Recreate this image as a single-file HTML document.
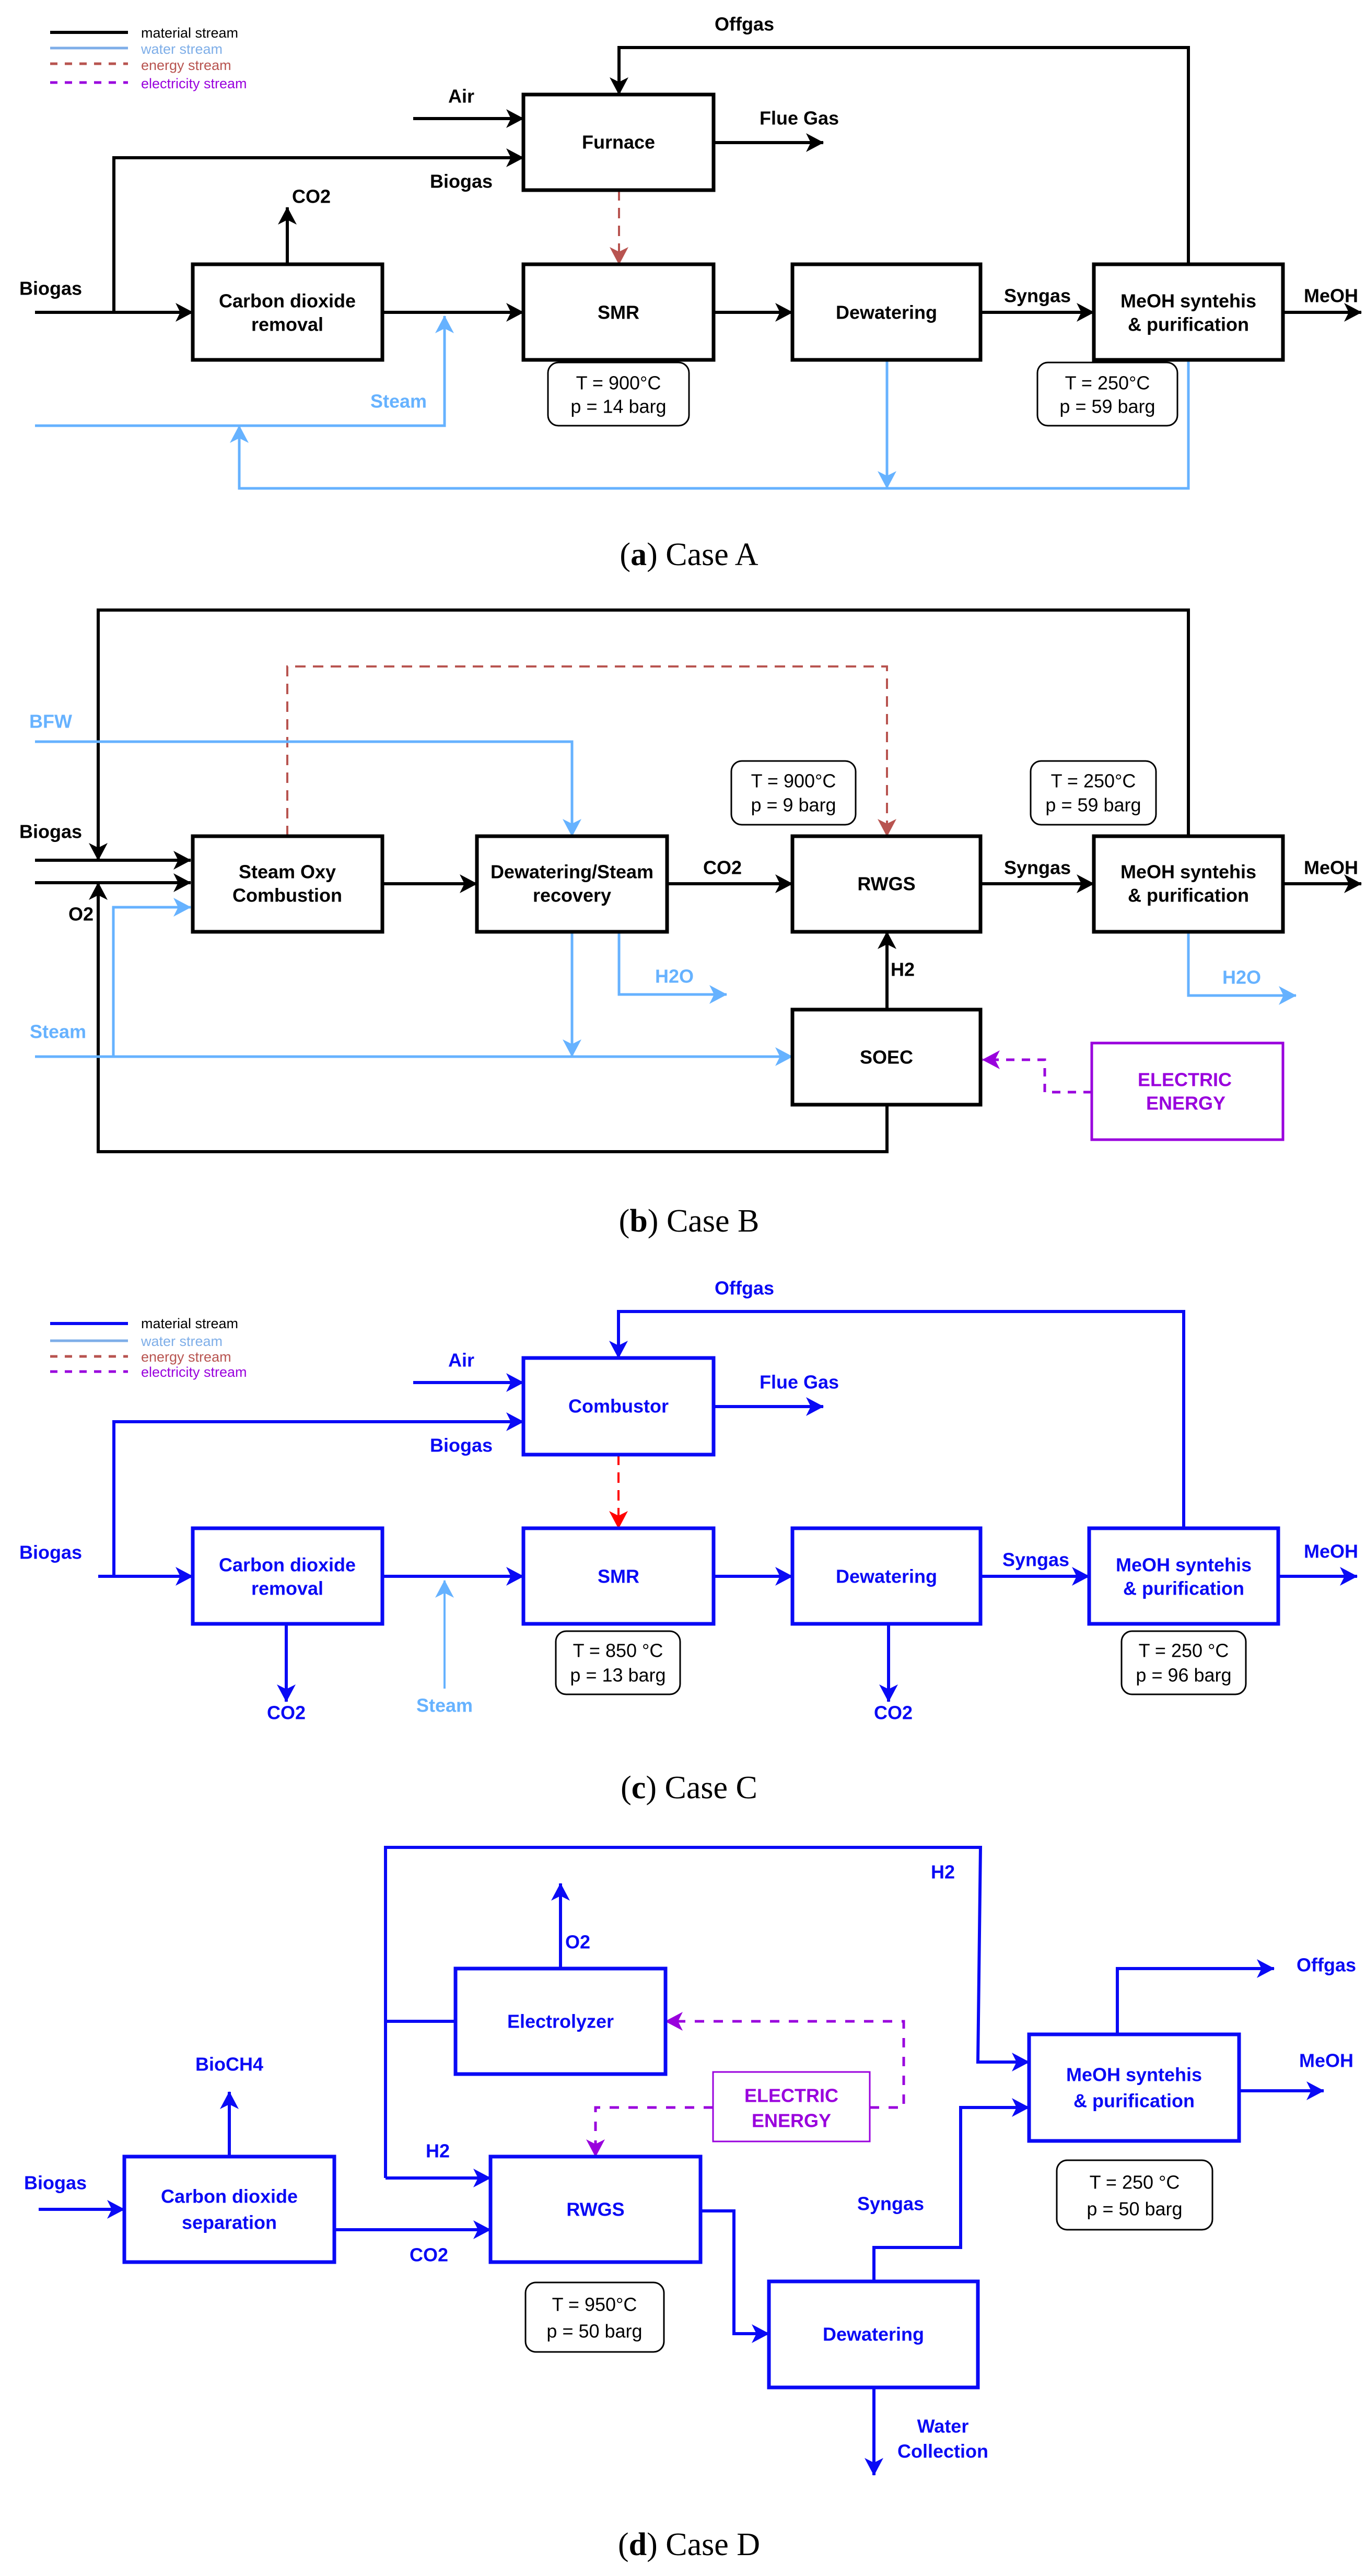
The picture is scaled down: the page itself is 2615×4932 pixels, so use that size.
<!DOCTYPE html>
<html><head><meta charset="utf-8"><style>
html,body{margin:0;padding:0;background:#fff}
svg{display:block}
text{font-family:"Liberation Sans",Arial,sans-serif}
.b{font-weight:bold;font-size:36px}
.r{font-size:36px}
.lg{font-size:27px}
.cap{font-family:"Liberation Serif",serif;font-size:62px}
</style></head><body>
<svg width="2615" height="4932" viewBox="0 0 2615 4932" xmlns="http://www.w3.org/2000/svg">
<defs>
<marker id="ak" viewBox="0 0 34 36" markerWidth="34" markerHeight="36" refX="33" refY="18" orient="auto" markerUnits="userSpaceOnUse"><path d="M0,0 L34,18 L0,36 L9,18 Z" fill="#000"/></marker>
<marker id="al" viewBox="0 0 34 36" markerWidth="34" markerHeight="36" refX="33" refY="18" orient="auto" markerUnits="userSpaceOnUse"><path d="M0,0 L34,18 L0,36 L9,18 Z" fill="#66b2ff"/></marker>
<marker id="ab" viewBox="0 0 34 36" markerWidth="34" markerHeight="36" refX="33" refY="18" orient="auto" markerUnits="userSpaceOnUse"><path d="M0,0 L34,18 L0,36 L9,18 Z" fill="#0a0af5"/></marker>
<marker id="ar" viewBox="0 0 34 36" markerWidth="34" markerHeight="36" refX="33" refY="18" orient="auto" markerUnits="userSpaceOnUse"><path d="M0,0 L34,18 L0,36 L9,18 Z" fill="#b85450"/></marker>
<marker id="ard" viewBox="0 0 34 36" markerWidth="34" markerHeight="36" refX="33" refY="18" orient="auto" markerUnits="userSpaceOnUse"><path d="M0,0 L34,18 L0,36 L9,18 Z" fill="#ff0000"/></marker>
<marker id="ap" viewBox="0 0 34 36" markerWidth="34" markerHeight="36" refX="33" refY="18" orient="auto" markerUnits="userSpaceOnUse"><path d="M0,0 L34,18 L0,36 L9,18 Z" fill="#9900dd"/></marker>
</defs>

<!-- ================= CASE A ================= -->
<g fill="none" stroke-width="6">
<line x1="96" y1="62" x2="245" y2="62" stroke="#000"/>
<line x1="96" y1="92" x2="245" y2="92" stroke="#7eaee8" stroke-width="5"/>
<line x1="96" y1="122" x2="245" y2="122" stroke="#b85450" stroke-width="5" stroke-dasharray="14,14"/>
<line x1="96" y1="158" x2="245" y2="158" stroke="#9900dd" stroke-width="5" stroke-dasharray="14,14"/>
</g>
<text x="270" y="72" class="lg" fill="#000">material stream</text>
<text x="270" y="103" class="lg" fill="#7eaee8">water stream</text>
<text x="270" y="134" class="lg" fill="#b85450">energy stream</text>
<text x="270" y="169" class="lg" fill="#9900dd">electricity stream</text>

<g fill="none" stroke="#000" stroke-width="6">
<path d="M2275,506 V91 H1185 V181" marker-end="url(#ak)"/>
<path d="M791,227 H1002" marker-end="url(#ak)"/>
<path d="M218,598 V302 H1002" marker-end="url(#ak)"/>
<path d="M1366,273 H1576" marker-end="url(#ak)"/>
<path d="M67,598 H369" marker-end="url(#ak)"/>
<path d="M550,506 V397" marker-end="url(#ak)"/>
<path d="M732,598 H1002" marker-end="url(#ak)"/>
<path d="M1366,598 H1517" marker-end="url(#ak)"/>
<path d="M1877,598 H2094" marker-end="url(#ak)"/>
<path d="M2456,598 H2606" marker-end="url(#ak)"/>
</g>
<path d="M1185,364 V506" fill="none" stroke="#b85450" stroke-width="4" stroke-dasharray="20,14" marker-end="url(#ar)"/>
<g fill="none" stroke="#66b2ff" stroke-width="5">
<path d="M67,815 H851 V605" marker-end="url(#al)"/>
<path d="M2275,689 V935 H458 V815" marker-end="url(#al)"/>
<path d="M1698,689 V935" marker-end="url(#al)"/>
</g>
<g fill="#fff" stroke="#000" stroke-width="7">
<rect x="1002" y="181" width="364" height="183"/>
<rect x="369" y="506" width="363" height="183"/>
<rect x="1002" y="506" width="364" height="183"/>
<rect x="1517" y="506" width="360" height="183"/>
<rect x="2094" y="506" width="362" height="183"/>
</g>
<g fill="#fff" stroke="#000" stroke-width="3">
<rect x="1049" y="694" width="270" height="121" rx="20"/>
<rect x="1986" y="694" width="268" height="121" rx="20"/>
</g>
<g text-anchor="middle" dominant-baseline="central" fill="#000">
<text x="1425" y="46" class="b">Offgas</text>
<text x="883" y="184" class="b">Air</text>
<text x="883" y="347" class="b">Biogas</text>
<text x="1530" y="226" class="b">Flue Gas</text>
<text x="1184" y="272" class="b">Furnace</text>
<text x="97" y="552" class="b">Biogas</text>
<text x="596" y="376" class="b">CO2</text>
<text x="550" y="576" class="b">Carbon dioxide</text>
<text x="550" y="621" class="b">removal</text>
<text x="1184" y="598" class="b">SMR</text>
<text x="1697" y="598" class="b">Dewatering</text>
<text x="1986" y="566" class="b">Syngas</text>
<text x="2275" y="576" class="b">MeOH syntehis</text>
<text x="2275" y="621" class="b">&amp; purification</text>
<text x="2548" y="566" class="b">MeOH</text>
<text x="763" y="768" class="b" fill="#66b2ff">Steam</text>
<text x="1184" y="733" class="r">T = 900°C</text>
<text x="1184" y="778" class="r">p = 14 barg</text>
<text x="2120" y="733" class="r">T = 250°C</text>
<text x="2120" y="778" class="r">p = 59 barg</text>
</g>
<text x="1319" y="1082" text-anchor="middle" class="cap">(<tspan font-weight="bold">a</tspan>) Case A</text>

<!-- ================= CASE B ================= -->
<g fill="none" stroke="#000" stroke-width="6">
<path d="M2275,1601 V1168 H188 V1647" marker-end="url(#ak)"/>
<path d="M1698,2115 V2205 H188 V1690" marker-end="url(#ak)"/>
<path d="M67,1647 H365" marker-end="url(#ak)"/>
<path d="M67,1690 H365" marker-end="url(#ak)"/>
<path d="M732,1692 H913" marker-end="url(#ak)"/>
<path d="M1277,1692 H1517" marker-end="url(#ak)"/>
<path d="M1877,1692 H2094" marker-end="url(#ak)"/>
<path d="M2456,1692 H2606" marker-end="url(#ak)"/>
<path d="M1698,1933 V1784" marker-end="url(#ak)"/>
</g>
<path d="M550,1601 V1276 H1698 V1601" fill="none" stroke="#b85450" stroke-width="4" stroke-dasharray="20,14" marker-end="url(#ar)"/>
<g fill="none" stroke="#66b2ff" stroke-width="5">
<path d="M67,1420 H1095 V1601" marker-end="url(#al)"/>
<path d="M67,2023 H1517" marker-end="url(#al)"/>
<path d="M217,2023 V1737 H365" marker-end="url(#al)"/>
<path d="M1095,1784 V2023" marker-end="url(#al)"/>
<path d="M1185,1784 V1904 H1391" marker-end="url(#al)"/>
<path d="M2275,1784 V1906 H2481" marker-end="url(#al)"/>
</g>
<path d="M2090,2091 H2000 V2029 H1881" fill="none" stroke="#9900dd" stroke-width="5" stroke-dasharray="16,14" marker-end="url(#ap)"/>
<g fill="#fff" stroke="#000" stroke-width="7">
<rect x="369" y="1601" width="363" height="183"/>
<rect x="913" y="1601" width="364" height="183"/>
<rect x="1517" y="1601" width="360" height="183"/>
<rect x="2094" y="1601" width="362" height="183"/>
<rect x="1517" y="1933" width="360" height="182"/>
</g>
<rect x="2090" y="1997" width="366" height="185" fill="#fff" stroke="#9900dd" stroke-width="5"/>
<g fill="#fff" stroke="#000" stroke-width="3">
<rect x="1400" y="1457" width="238" height="122" rx="20"/>
<rect x="1973" y="1457" width="240" height="122" rx="20"/>
</g>
<g text-anchor="middle" dominant-baseline="central" fill="#000">
<text x="97" y="1381" class="b" fill="#66b2ff">BFW</text>
<text x="97" y="1592" class="b">Biogas</text>
<text x="155" y="1750" class="b">O2</text>
<text x="111" y="1975" class="b" fill="#66b2ff">Steam</text>
<text x="550" y="1669" class="b">Steam Oxy</text>
<text x="550" y="1714" class="b">Combustion</text>
<text x="1095" y="1669" class="b">Dewatering/Steam</text>
<text x="1095" y="1714" class="b">recovery</text>
<text x="1383" y="1661" class="b">CO2</text>
<text x="1697" y="1692" class="b">RWGS</text>
<text x="1986" y="1661" class="b">Syngas</text>
<text x="2275" y="1669" class="b">MeOH syntehis</text>
<text x="2275" y="1714" class="b">&amp; purification</text>
<text x="2548" y="1661" class="b">MeOH</text>
<text x="1291" y="1869" class="b" fill="#66b2ff">H2O</text>
<text x="2377" y="1871" class="b" fill="#66b2ff">H2O</text>
<text x="1728" y="1856" class="b">H2</text>
<text x="1697" y="2024" class="b">SOEC</text>
<text x="2268" y="2067" class="b" fill="#9900dd">ELECTRIC</text>
<text x="2270" y="2112" class="b" fill="#9900dd">ENERGY</text>
<text x="1519" y="1495" class="r">T = 900°C</text>
<text x="1519" y="1541" class="r">p = 9 barg</text>
<text x="2093" y="1495" class="r">T = 250°C</text>
<text x="2093" y="1541" class="r">p = 59 barg</text>
</g>
<text x="1319" y="2358" text-anchor="middle" class="cap">(<tspan font-weight="bold">b</tspan>) Case B</text>

<!-- ================= CASE C ================= -->
<g fill="none" stroke-width="6">
<line x1="96" y1="2534" x2="245" y2="2534" stroke="#0a0af5"/>
<line x1="96" y1="2567" x2="245" y2="2567" stroke="#7eaee8" stroke-width="5"/>
<line x1="96" y1="2597" x2="245" y2="2597" stroke="#b85450" stroke-width="5" stroke-dasharray="14,14"/>
<line x1="96" y1="2626" x2="245" y2="2626" stroke="#9900dd" stroke-width="5" stroke-dasharray="14,14"/>
</g>
<text x="270" y="2543" class="lg" fill="#000">material stream</text>
<text x="270" y="2577" class="lg" fill="#7eaee8">water stream</text>
<text x="270" y="2607" class="lg" fill="#b85450">energy stream</text>
<text x="270" y="2636" class="lg" fill="#9900dd">electricity stream</text>

<g fill="none" stroke="#0a0af5" stroke-width="6">
<path d="M2266,2926 V2511 H1184 V2600" marker-end="url(#ab)"/>
<path d="M791,2647 H1002" marker-end="url(#ab)"/>
<path d="M218,3018 V2722 H1002" marker-end="url(#ab)"/>
<path d="M1366,2693 H1576" marker-end="url(#ab)"/>
<path d="M188,3018 H369" marker-end="url(#ab)"/>
<path d="M732,3018 H1002" marker-end="url(#ab)"/>
<path d="M1366,3018 H1517" marker-end="url(#ab)"/>
<path d="M1877,3018 H2085" marker-end="url(#ab)"/>
<path d="M2447,3018 H2598" marker-end="url(#ab)"/>
<path d="M548,3109 V3258" marker-end="url(#ab)"/>
<path d="M1701,3109 V3258" marker-end="url(#ab)"/>
</g>
<path d="M1184,2785 V2926" fill="none" stroke="#ff0000" stroke-width="4" stroke-dasharray="20,14" marker-end="url(#ard)"/>
<path d="M851,3233 V3026" fill="none" stroke="#66b2ff" stroke-width="4" marker-end="url(#al)"/>
<g fill="#fff" stroke="#0a0af5" stroke-width="7">
<rect x="1002" y="2600" width="364" height="185"/>
<rect x="369" y="2926" width="363" height="183"/>
<rect x="1002" y="2926" width="364" height="183"/>
<rect x="1517" y="2926" width="360" height="183"/>
<rect x="2085" y="2926" width="362" height="183"/>
</g>
<g fill="#fff" stroke="#000" stroke-width="3">
<rect x="1064" y="3123" width="238" height="121" rx="20"/>
<rect x="2147" y="3123" width="238" height="121" rx="20"/>
</g>
<g text-anchor="middle" dominant-baseline="central" fill="#0a0af5">
<text x="1425" y="2466" class="b">Offgas</text>
<text x="883" y="2604" class="b">Air</text>
<text x="883" y="2767" class="b">Biogas</text>
<text x="1530" y="2646" class="b">Flue Gas</text>
<text x="1184" y="2692" class="b">Combustor</text>
<text x="97" y="2972" class="b">Biogas</text>
<text x="550" y="2996" class="b">Carbon dioxide</text>
<text x="550" y="3041" class="b">removal</text>
<text x="1184" y="3018" class="b">SMR</text>
<text x="1697" y="3018" class="b">Dewatering</text>
<text x="1983" y="2986" class="b">Syngas</text>
<text x="2266" y="2996" class="b">MeOH syntehis</text>
<text x="2266" y="3041" class="b">&amp; purification</text>
<text x="2548" y="2970" class="b">MeOH</text>
<text x="548" y="3279" class="b">CO2</text>
<text x="1710" y="3279" class="b">CO2</text>
<text x="851" y="3265" class="b" fill="#66b2ff">Steam</text>
<text x="1183" y="3160" class="r" fill="#000">T = 850 °C</text>
<text x="1183" y="3207" class="r" fill="#000">p = 13 barg</text>
<text x="2266" y="3160" class="r" fill="#000">T = 250 °C</text>
<text x="2266" y="3207" class="r" fill="#000">p = 96 barg</text>
</g>
<text x="1319" y="3443" text-anchor="middle" class="cap">(<tspan font-weight="bold">c</tspan>) Case C</text>

<!-- ================= CASE D ================= -->
<g fill="none" stroke="#0a0af5" stroke-width="6">
<path d="M738,4170 V3537 H1877 L1872,3948 H1970" marker-end="url(#ab)"/>
<path d="M738,4170 H939" marker-end="url(#ab)"/>
<path d="M738,3870 H872"/>
<path d="M1073,3769 V3606" marker-end="url(#ab)"/>
<path d="M74,4230 H238" marker-end="url(#ab)"/>
<path d="M439,4129 V4005" marker-end="url(#ab)"/>
<path d="M640,4269 H939" marker-end="url(#ab)"/>
<path d="M1341,4233 H1405 V4468 H1472" marker-end="url(#ab)"/>
<path d="M1673,4368 V4303 H1839 V4035 H1970" marker-end="url(#ab)"/>
<path d="M1673,4571 V4739" marker-end="url(#ab)"/>
<path d="M2139,3895 V3769 H2439" marker-end="url(#ab)"/>
<path d="M2372,4003 H2534" marker-end="url(#ab)"/>
</g>
<g fill="none" stroke="#9900dd" stroke-width="5" stroke-dasharray="18,18">
<path d="M1665,4035 H1730 V3870 H1274" marker-end="url(#ap)"/>
<path d="M1365,4035 H1140 V4129" marker-end="url(#ap)"/>
</g>
<g fill="#fff" stroke="#0a0af5" stroke-width="7">
<rect x="872" y="3769" width="402" height="202"/>
<rect x="238" y="4129" width="402" height="202"/>
<rect x="939" y="4129" width="402" height="202"/>
<rect x="1472" y="4368" width="400" height="203"/>
<rect x="1970" y="3895" width="402" height="204"/>
</g>
<rect x="1365" y="3967" width="300" height="133" fill="#fff" stroke="#9900dd" stroke-width="3"/>
<g fill="#fff" stroke="#000" stroke-width="3">
<rect x="1006" y="4370" width="265" height="133" rx="20"/>
<rect x="2023" y="4136" width="298" height="133" rx="20"/>
</g>
<g text-anchor="middle" dominant-baseline="central" fill="#0a0af5">
<text x="1805" y="3584" class="b">H2</text>
<text x="1106" y="3718" class="b">O2</text>
<text x="1073" y="3870" class="b">Electrolyzer</text>
<text x="439" y="3952" class="b">BioCH4</text>
<text x="106" y="4179" class="b">Biogas</text>
<text x="838" y="4118" class="b">H2</text>
<text x="439" y="4205" class="b">Carbon dioxide</text>
<text x="439" y="4255" class="b">separation</text>
<text x="821" y="4317" class="b">CO2</text>
<text x="1140" y="4230" class="b">RWGS</text>
<text x="1705" y="4219" class="b">Syngas</text>
<text x="1672" y="4469" class="b">Dewatering</text>
<text x="1805" y="4645" class="b">Water</text>
<text x="1805" y="4693" class="b">Collection</text>
<text x="2171" y="3972" class="b">MeOH syntehis</text>
<text x="2171" y="4022" class="b">&amp; purification</text>
<text x="2539" y="3762" class="b">Offgas</text>
<text x="2539" y="3945" class="b">MeOH</text>
<text x="1515" y="4012" class="b" fill="#9900dd">ELECTRIC</text>
<text x="1515" y="4060" class="b" fill="#9900dd">ENERGY</text>
<text x="1138" y="4412" class="r" fill="#000">T = 950°C</text>
<text x="1138" y="4463" class="r" fill="#000">p = 50 barg</text>
<text x="2172" y="4178" class="r" fill="#000">T = 250 °C</text>
<text x="2172" y="4229" class="r" fill="#000">p =  50 barg</text>
</g>
<text x="1319" y="4892" text-anchor="middle" class="cap">(<tspan font-weight="bold">d</tspan>) Case D</text>
</svg>
</body></html>
